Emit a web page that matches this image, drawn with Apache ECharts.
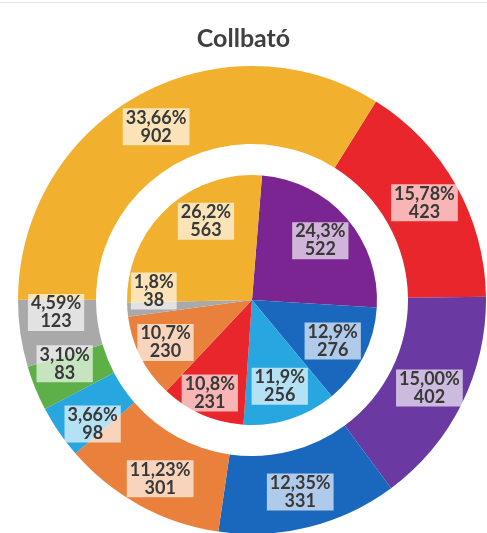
<!DOCTYPE html>
<html>
<head>
<meta charset="utf-8">
<script src="https://cdn.jsdelivr.net/npm/echarts@6/dist/echarts.min.js"></script>
<style>
html,body{margin:0;padding:0;background:#fff;}
#chart{width:487px;height:533px;}
</style>
</head>
<body>
<div id="chart"></div>
<script>
// ---- data ----
var title = 'Collbató';

var outerNames  = ['Vermell', 'Lila', 'Blau', 'Taronja', 'Blau clar', 'Verd', 'Gris', 'Groc'];
var outerValues = [423, 402, 331, 301, 98, 83, 123, 902];
var outerPct    = ['15,78%', '15,00%', '12,35%', '11,23%', '3,66%', '3,10%', '4,59%', '33,66%'];

var innerNames  = ['Lila', 'Blau', 'Blau clar', 'Vermell', 'Taronja', 'Gris', 'Groc'];
var innerValues = [522, 276, 256, 231, 230, 38, 563];
var innerPct    = ['24,3%', '12,9%', '11,9%', '10,8%', '10,7%', '1,8%', '26,2%'];

// ---- styling ----
var colorMap = {
  'Vermell': '#E8262B',
  'Lila': '#6A3AA2',
  'Blau': '#1A68BE',
  'Taronja': '#E9813D',
  'Blau clar': '#27A6DF',
  'Verd': '#5DAF47',
  'Gris': '#A9A9A9',
  'Groc': '#F1B12E'
};
var innerColorMap = Object.assign({}, colorMap, {'Lila': '#7A2591'});

var outerOffsets = {'Gris': [0, -16], 'Verd': [-4, -11], 'Blau clar': [4, 12], 'Taronja': [3, 5]};
var innerOffsets = {'Groc': [16, -13], 'Gris': [-8, -16], 'Taronja': [-6, 1], 'Vermell': [-6, 10]};

var labelBase = {
  show: true,
  position: 'inside',
  color: '#383838',
  fontFamily: 'Lato',
  fontWeight: 'bold',
  fontSize: 18,
  lineHeight: 18,
  backgroundColor: 'rgba(255,255,255,0.66)',
  padding: [1, 3, 0, 3]
};

function buildData(names, values, cmap, offsets, showColor) {
  return names.map(function (n, i) {
    var item = {name: n, value: values[i], itemStyle: {color: showColor ? cmap[n] : 'rgba(0,0,0,0)'}};
    if (offsets[n]) item.label = {offset: offsets[n]};
    return item;
  });
}

var center = [252, 300];

var chart = echarts.init(document.getElementById('chart'), null, {renderer: 'canvas'});
chart.setOption({
  animation: false,
  backgroundColor: '#ffffff',
  title: {
    text: title,
    left: 'center',
    top: 21,
    textStyle: {fontFamily: 'Lato', fontWeight: 'bold', fontSize: 25, color: '#404040'}
  },
  graphic: [{
    type: 'rect', shape: {x: 0, y: 2, width: 487, height: 1},
    style: {fill: '#e4e4e4'}, silent: true
  }],
  series: [
    {
      type: 'pie',
      radius: [156, 234],
      center: center,
      startAngle: 58,
      clockwise: true,
      silent: true,
      label: Object.assign({}, labelBase, {
        formatter: function (p) { return outerPct[p.dataIndex] + '\n' + p.value; }
      }),
      labelLine: {show: false},
      itemStyle: {borderWidth: 0},
      data: buildData(outerNames, outerValues, colorMap, outerOffsets, true)
    },
    {
      type: 'pie',
      radius: [0, 125],
      center: center,
      startAngle: 85.4,
      clockwise: true,
      silent: true,
      label: {show: false},
      labelLine: {show: false},
      itemStyle: {borderWidth: 0},
      data: buildData(innerNames, innerValues, innerColorMap, {}, true)
    },
    {
      type: 'pie',
      radius: [50, 125],
      center: center,
      startAngle: 85.4,
      clockwise: true,
      silent: true,
      z: 5,
      label: Object.assign({}, labelBase, {
        formatter: function (p) { return innerPct[p.dataIndex] + '\n' + p.value; }
      }),
      labelLine: {show: false},
      itemStyle: {borderWidth: 0},
      emphasis: {disabled: true},
      data: buildData(innerNames, innerValues, innerColorMap, innerOffsets, false)
    }
  ]
});
</script>
</body>
</html>
